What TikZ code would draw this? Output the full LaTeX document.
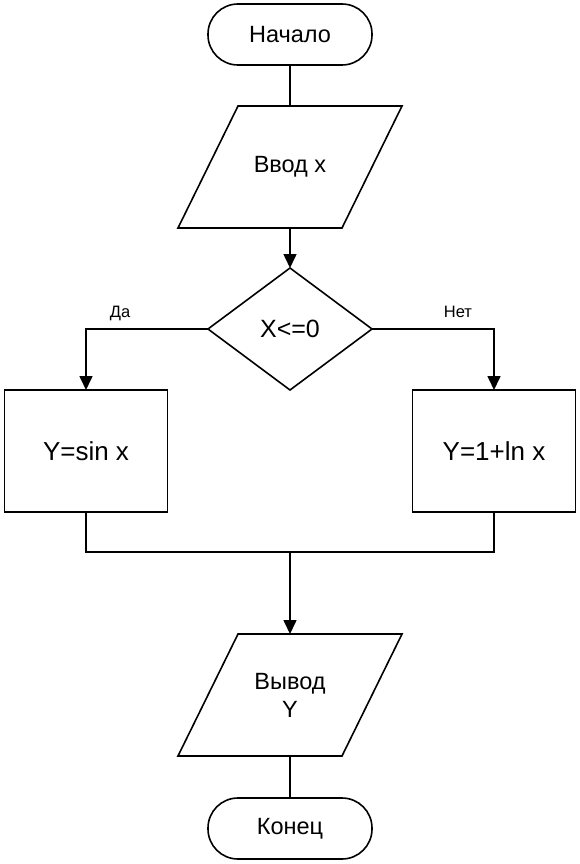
\documentclass[tikz,border=0pt]{standalone}
\usepackage{fontspec}
\setmainfont{Liberation Sans}
\usetikzlibrary{shapes.geometric,arrows.meta,positioning}

% sloped frame round an input/output block
\newcommand{\ioframe}[1]{%
  \draw[line] ([xshift=30pt]#1.north west) -- ([xshift=30pt]#1.north east)
    -- ([xshift=-30pt]#1.south east) -- ([xshift=-30pt]#1.south west) -- cycle;}

\begin{document}
\begin{tikzpicture}[
        node distance=41pt,
        base/.style={draw, line width=1.6pt, font=\fontsize{23.5}{28}\selectfont, align=center, inner sep=0pt, outer sep=0pt},
        term/.style={base, rectangle, rounded corners=30pt, minimum width=164pt, minimum height=61pt},
        io/.style={base, draw=none, rectangle, minimum width=164pt, minimum height=122pt},
        proc/.style={base, rectangle, minimum width=163pt, minimum height=122pt, font=\fontsize{26}{30}\selectfont},
        decision/.style={base, diamond, minimum width=164pt, minimum height=122pt, font=\fontsize{25}{30}\selectfont},
        line/.style={line width=1.6pt},
        arrow/.style={line, -{Triangle[length=14pt, width=13pt]}},
        lbl/.style={font=\fontsize{16.5}{20}\selectfont, inner sep=0pt, anchor=base, yshift=12pt}
    ]
    \useasboundingbox (0,0) rectangle (579pt,-864pt);

    % blocks
    \node (start) [term] at (290pt,-34.5pt) {Начало};
    \node (input) [io, below=41pt of start] {Ввод x};
    \node (check) [decision, below=40pt of input] {X<=0};
    \node (ysin) [proc, below=0pt of check, xshift=-204pt] {Y=sin x};
    \node (yln) [proc, below=0pt of check, xshift=204pt] {Y=1+ln x};
    \coordinate (join) at ([yshift=-40pt]ysin.south -| check.south);
    \node (output) [io, below=82pt of join] {Вывод\\Y};
    \node (stop) [term, below=42pt of output] {Конец};
    \ioframe{input}
    \ioframe{output}

    % connectors
    \draw[line] (start) -- (input);
    \draw[arrow] (input) -- (check);
    \draw[arrow] (check.west) -| node[lbl, pos=0.36] {Да} (ysin.north);
    \draw[arrow] (check.east) -| node[lbl, pos=0.352] {Нет} (yln.north);
    \draw[line] (ysin.south) |- (join) -| (yln.south);
    \draw[arrow] (join) -- (output);
    \draw[line] (output) -- (stop);
\end{tikzpicture}
\end{document}
